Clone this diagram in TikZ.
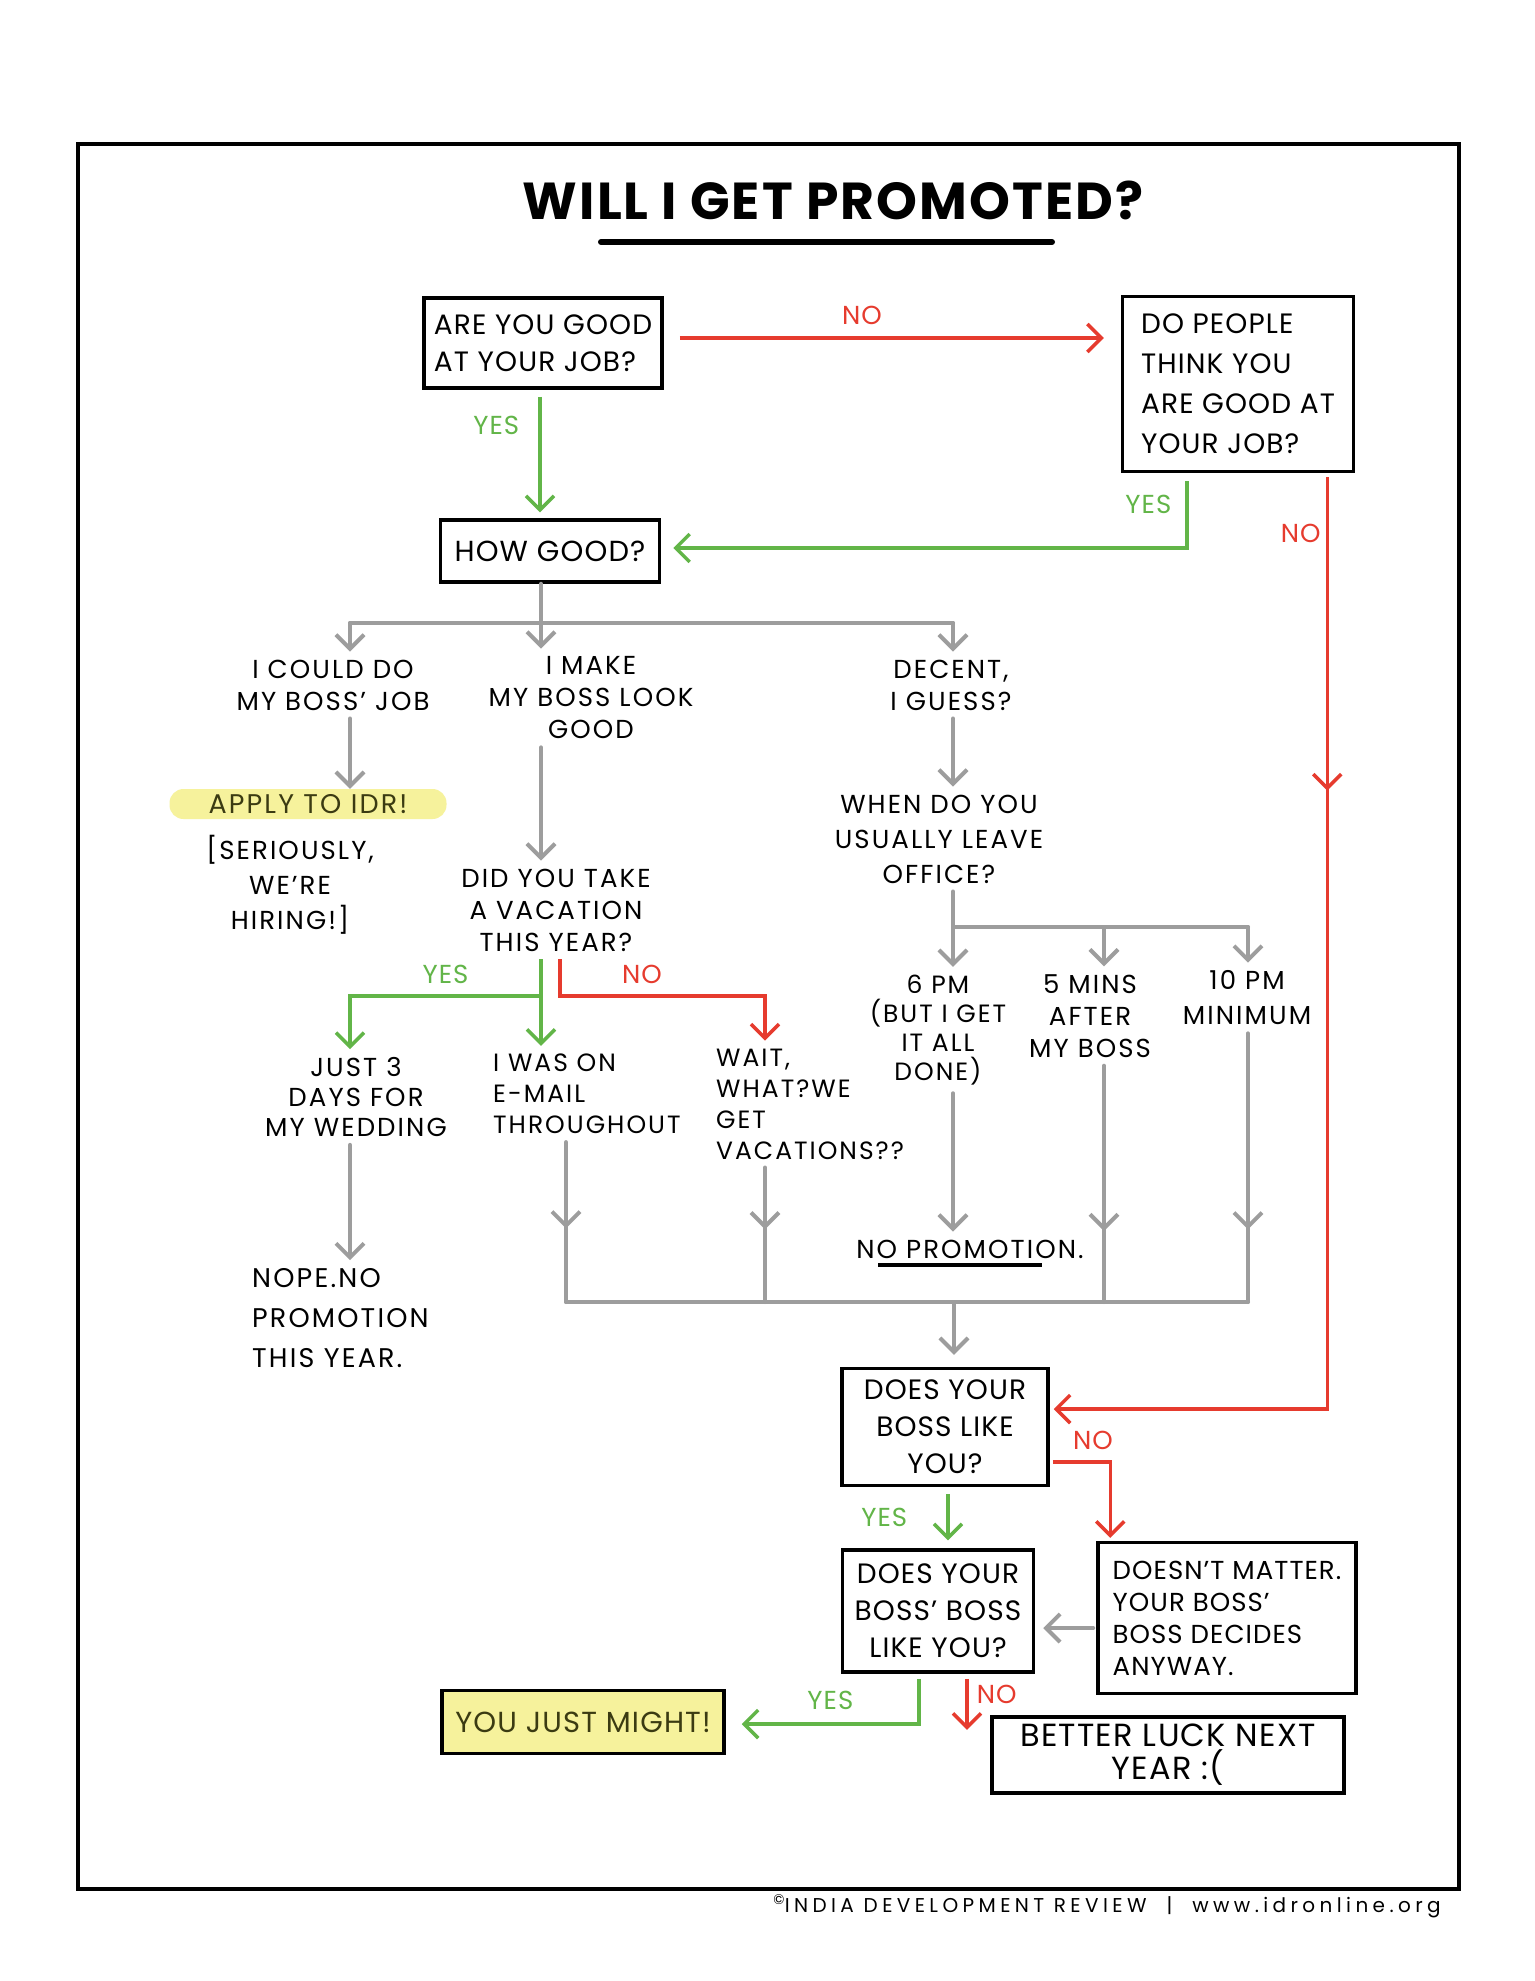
\documentclass[tikz,border=0pt]{standalone}
\usepackage{fontspec}
\setmainfont{Poppins}[LetterSpace=4]
\usetikzlibrary{arrows.meta,calc,decorations.markings}
\definecolor{idrred}{HTML}{E63B2E}
\definecolor{idrgreen}{HTML}{62B548}
\definecolor{idrgrey}{HTML}{9D9D9D}
\definecolor{idrhl}{HTML}{F6F29C}
\definecolor{idrolive}{HTML}{3B3B12}
\newcommand\boxfont{\fontsize{28}{37}\selectfont}
\newcommand\sayfont{\fontsize{26}{32}\selectfont\addfontfeature{LetterSpace=8}}
\newcommand\tagfont{\fontsize{26}{28}\selectfont}

\begin{document}
\begin{tikzpicture}[x=1pt,y=-1pt,>={Straight Barb[length=14pt,width=28pt]},
  box/.style={draw,line width=3.5pt,inner sep=6pt,align=center,font=\boxfont},
  say/.style={inner sep=8pt,align=center,font=\sayfont},
  yesline/.style={idrgreen,line width=3.5pt,->},
  noline/.style={idrred,line width=3.5pt,->},
  greyline/.style={idrgrey,line width=4pt,line cap=round},
  yestag/.style={idrgreen,font=\tagfont,inner sep=3pt},
  notag/.style={idrred,font=\tagfont,inner sep=3pt},
  midtip/.style={postaction={decorate},decoration={markings,
    mark=at position #1 with {\arrow{Straight Barb[length=14pt,width=28pt]}}}}]
\fill[white] (0,0) rectangle (1534,1981);
\useasboundingbox (0,0) rectangle (1534,1981);
\draw[line width=3.5pt] (78,144) rectangle (1459,1889);

% title
\node[font=\fontsize{52}{56}\selectfont\bfseries] (title) at (833,200) {WILL I GET PROMOTED?};
\draw[line width=6pt,line cap=round] (601,242) -- (1052,242);

% columns and junctions
\coordinate (colA) at (350,0);
\coordinate (colB) at (541,0);
\coordinate (colR) at (560,0);
\coordinate (colW) at (566,0);
\coordinate (colC) at (765,0);
\coordinate (colD) at (953,0);
\coordinate (colE) at (1104,0);
\coordinate (colF) at (1248,0);
\coordinate (fork) at (541,623);
\coordinate (lfork) at (953,927);
\coordinate (vfork) at (541,996);
\coordinate (join) at (954,1302);

% boxes and texts
\node[box,align=left,minimum width=238,minimum height=90] (goodjob) at (543,343) {ARE YOU GOOD\\AT YOUR JOB?};
\node[box,align=left,minimum width=231,minimum height=175,font=\fontsize{28}{40}\selectfont] (think) at (1238,384) {DO PEOPLE\\THINK YOU\\ARE GOOD AT\\YOUR JOB?};
\node[box,minimum width=219,minimum height=62,font=\fontsize{29}{34}\selectfont] (howgood) at (550,551) {HOW GOOD?};

\node[say] (couldjob) at (333,685) {I COULD DO\\MY BOSS' JOB};
\node[say] (lookgood) at (591,698) {I MAKE\\MY BOSS LOOK\\GOOD};
\node[say] (decent) at (951,685) {DECENT,\\I GUESS?};
\node[fill=idrhl,text=idrolive,rounded corners=14pt,inner sep=2pt,minimum width=277,minimum height=30,font=\fontsize{27}{30}\selectfont\addfontfeature{LetterSpace=8}] (apply) at (308,804) {APPLY TO IDR!};
\node[say,font=\sayfont\fontsize{26}{35}\selectfont] (hiring) at (290,885) {[SERIOUSLY,\\WE'RE\\HIRING!]};
\node[say] (vacation) at (556,910) {DID YOU TAKE\\A VACATION\\THIS YEAR?};
\node[say,font=\sayfont\fontsize{26}{35}\selectfont] (leave) at (939,839) {WHEN DO YOU\\USUALLY LEAVE\\OFFICE?};
\node[say,font=\sayfont\fontsize{26}{30}\selectfont] (wedding) at (356,1097) {JUST 3\\DAYS FOR\\MY WEDDING};
\node[say,align=left,anchor=west,font=\sayfont\fontsize{25}{31}\selectfont] (email) at (485,1094) {I WAS ON\\E-MAIL\\THROUGHOUT};
\node[say,align=left,anchor=west,font=\sayfont\fontsize{25}{31}\selectfont] (wait) at (708,1104) {WAIT,\\WHAT?WE\\GET\\VACATIONS??};
\node[say,font=\sayfont\fontsize{25}{29}\selectfont] (sixpm) at (938,1030) {6 PM\\(BUT I GET\\IT ALL\\DONE)};
\node[say] (fivemin) at (1090,1016) {5 MINS\\AFTER\\MY BOSS};
\node[say,font=\sayfont\fontsize{26}{35}\selectfont] (tenpm) at (1247,998) {10 PM\\MINIMUM};
\node[say] (nopromo) at (970,1249) {NO PROMOTION.};
\draw[line width=3.5pt] (878,1265) -- (1042,1265);
\node[say,align=left,anchor=west,font=\sayfont\fontsize{27}{40}\selectfont] (nope) at (244,1318) {NOPE.NO\\PROMOTION\\THIS YEAR.};

\node[box,minimum width=206,minimum height=117] (bosslikes) at (945,1427) {DOES YOUR\\BOSS LIKE\\YOU?};
\node[box,minimum width=191,minimum height=122] (bossboss) at (938,1611) {DOES YOUR\\BOSS' BOSS\\LIKE YOU?};
\node[box,align=left,minimum width=258,minimum height=151,font=\fontsize{26}{32}\selectfont] (nomatter) at (1227,1618) {DOESN'T MATTER.\\YOUR BOSS'\\BOSS DECIDES\\ANYWAY.};
\node[box,fill=idrhl,text=idrolive,minimum width=282,minimum height=63,font=\fontsize{29}{34}\selectfont] (might) at (583,1722) {YOU JUST MIGHT!};
\node[box,minimum width=352,minimum height=76,font=\fontsize{32}{33}\selectfont] (nextyear) at (1168,1755) {BETTER LUCK NEXT\\YEAR :(};

\node[font=\fontsize{20}{22}\selectfont\addfontfeature{LetterSpace=22}] (credit) at (1107,1906) {\textsuperscript{\textcopyright}INDIA DEVELOPMENT REVIEW\quad|\quad www.idronline.org};

% top questions
\draw[noline] ($(goodjob.east)+(16,-5)$) -- node[notag,above=9pt,pos=0.43]{NO} ($(goodjob.east -| think.west)+(-17,-5)$);
\draw[yesline] ($(goodjob.south)+(-3,7)$) -- node[yestag,left=16pt,pos=0.25]{YES} ($(goodjob.south |- howgood.north)+(-3,-6)$);
\draw[yesline] ($(think.south)+(-51,8)$) |- node[yestag,left=11pt,pos=0.17]{YES} ($(howgood.east)+(12,-3)$);
\draw[noline,midtip=0.26] ($(think.south east)+(-28,4)$) |- node[notag,left=2pt,pos=0.03]{NO} ($(bosslikes.east)+(4,-18)$);

% how good?
\draw[greyline] (howgood.south -| fork) -- (fork);
\draw[greyline] (fork -| colA) -- (fork -| colD);
\draw[greyline,->] (fork -| colA) -- (colA |- couldjob.north);
\draw[greyline,->] (fork) -- (colB |- lookgood.north);
\draw[greyline,->] (fork -| colD) -- (colD |- decent.north);
\draw[greyline,->] (couldjob.south -| colA) -- (colA |- apply.north);
\draw[greyline,->] (lookgood.south -| colB) -- (colB |- vacation.north);
\draw[greyline,->] (decent.south -| colD) -- (colD |- leave.north);

% leaving time
\draw[greyline] (leave.south -| lfork) -- (lfork) -- (lfork -| colF);
\draw[greyline,->] (lfork) -- (colD |- sixpm.north);
\draw[greyline,->] (lfork -| colE) -- (colE |- fivemin.north);
\draw[greyline,->] (lfork -| colF) -- (colF |- tenpm.north);

% vacation
\draw[yesline] (vacation.south -| vfork) -- (vfork) -- (colB |- email.north);
\draw[yesline] (vfork) -- node[yestag,above=8pt]{YES} (vfork -| colA) -- (colA |- wedding.north);
\draw[noline] (vacation.south -| colR) -- (colR |- vfork) -- node[notag,above=8pt,pos=0.4]{NO} (vfork -| colC) -- (colC |- wait.north);
\draw[greyline,->] (wedding.south -| colA) -- (colA |- nope.north);

% all into the boss question
\draw[greyline] (join -| colW) -- (join -| colF);
\draw[greyline,midtip=0.54] (email.south -| colW) -- (join -| colW);
\draw[greyline,midtip=0.46] (wait.south -| colC) -- (join -| colC);
\draw[greyline,->] (sixpm.south -| colD) -- (colD |- nopromo.north);
\draw[greyline,midtip=0.7] (fivemin.south -| colE) -- (join -| colE);
\draw[greyline,midtip=0.73] (tenpm.south -| colF) -- (join -| colF);
\draw[greyline,->,shorten >=12pt] (join) -- (join |- bosslikes.north);

% boss and boss' boss
\draw[noline] ($(bosslikes.east)+(3,35)$) -| node[notag,above=8pt,pos=0.35]{NO} ($(nomatter.north west)+(14,-3)$);
\draw[yesline] ($(bosslikes.south)+(3,7)$) -- node[yestag,left=36pt]{YES} ($(bosslikes.south |- bossboss.north)+(3,-8)$);
\draw[greyline,->] ($(nomatter.west)+(-3,10)$) -- ($(nomatter.west -| bossboss.east)+(8,10)$);
\draw[yesline] ($(bossboss.south)+(-19,5)$) |- node[yestag,above=10pt,pos=0.75]{YES} ($(might.east)+(16,2)$);
\draw[noline] ($(bossboss.south)+(29,5)$) -- node[notag,right=5pt,pos=0.3]{NO} ($(bossboss.south)+(29,56)$);
\end{tikzpicture}
\end{document}
